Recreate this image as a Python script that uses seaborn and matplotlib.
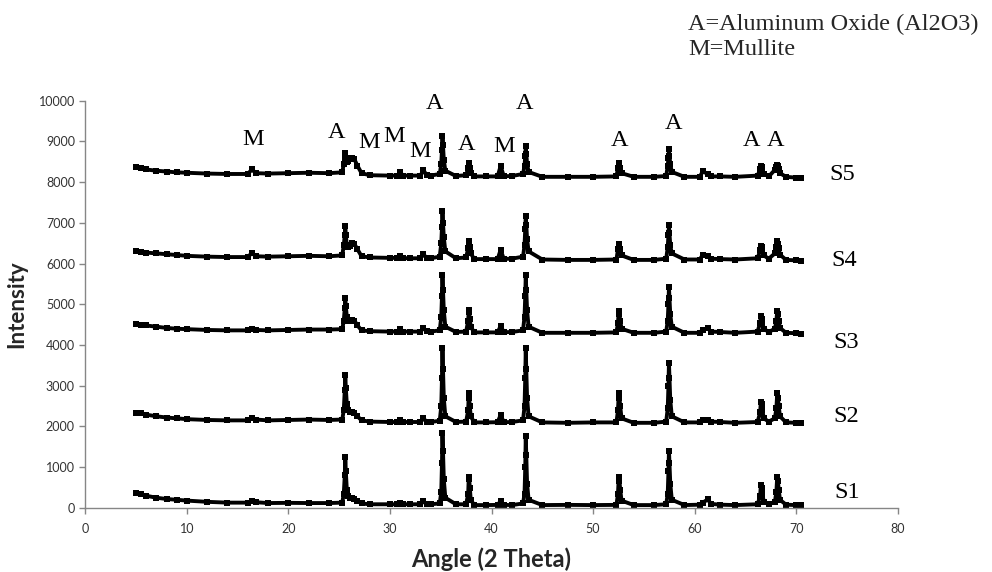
import pandas as pd
import matplotlib
matplotlib.use("Agg")
import matplotlib.pyplot as plt
import seaborn as sns

# =========================
# DATA
# =========================
ANGLE = [5.0, 5.5, 6.0, 7.0, 8.0, 9.0, 10.0, 12.0, 14.0, 16.0, 16.4, 16.8, 18.0, 20.0, 22.0, 24.0, 25.3,
         25.45, 25.55, 25.6, 25.65, 25.75, 25.9, 26.1, 26.3, 26.5, 26.8, 27.2,
         28.0, 30.0, 30.7, 31.0, 31.3, 32.0, 33.0, 33.3, 33.6, 34.0, 34.9,
         35.05, 35.12, 35.17, 35.22, 35.3, 35.45,
         36.5, 37.5,
         37.7, 37.76, 37.8, 37.86, 37.95,
         38.3, 39.5, 40.6, 40.9, 41.2, 42.0, 43.1,
         43.25, 43.32, 43.37, 43.42, 43.5, 43.65,
         45.0, 47.5, 50.0, 52.3,
         52.45, 52.53, 52.6, 52.67, 52.8,
         54.0, 56.0, 57.2,
         57.35, 57.42, 57.47, 57.52, 57.6, 57.75,
         59.0, 60.5, 60.8, 61.3, 61.6, 62.5, 64.0, 66.2,
         66.45, 66.52, 66.6, 66.68, 66.8,
         67.3, 67.9,
         68.05, 68.13, 68.2, 68.28, 68.4,
         69.0, 70.0, 70.5]

S1 = [360, 340, 300, 250, 220, 200, 180, 150, 130, 130, 170, 140, 120, 125, 120, 120, 130,
      350, 800, 1245, 900, 450, 300, 250, 240, 230, 170, 110,
      90, 90, 90, 110, 90, 90, 90, 160, 95, 90, 110,
      400, 1100, 1850, 1400, 700, 250,
      90, 90,
      350, 770, 700, 500, 200,
      70, 70, 75, 170, 75, 70, 110,
      350, 1000, 1770, 1300, 600, 200,
      70, 75, 70, 75,
      350, 770, 650, 450, 180,
      70, 70, 90,
      350, 900, 1410, 1100, 600, 200,
      70, 80, 130, 210, 100, 80, 70, 90,
      300, 565, 500, 350, 150,
      90, 150,
      400, 770, 650, 450, 200,
      80, 70, 60]

S2 = [2340, 2320, 2290, 2250, 2220, 2200, 2180, 2160, 2150, 2150, 2200, 2170, 2150, 2160, 2170, 2160, 2170,
      2400, 2900, 3270, 2950, 2550, 2400, 2350, 2360, 2340, 2250, 2150,
      2120, 2110, 2110, 2150, 2110, 2110, 2110, 2200, 2115, 2110, 2140,
      2500, 3200, 3920, 3400, 2700, 2250,
      2110, 2120,
      2400, 2830, 2700, 2500, 2250,
      2100, 2100, 2105, 2285, 2105, 2110, 2150,
      2500, 3200, 3920, 3400, 2700, 2250,
      2100, 2090, 2100, 2100,
      2400, 2830, 2700, 2500, 2200,
      2090, 2090, 2120,
      2450, 3000, 3570, 3200, 2650, 2250,
      2100, 2100, 2160, 2170, 2120, 2110, 2090, 2110,
      2350, 2610, 2550, 2400, 2200,
      2120, 2200,
      2450, 2810, 2700, 2500, 2250,
      2100, 2090, 2080]

S3 = [4520, 4500, 4480, 4450, 4420, 4400, 4390, 4370, 4360, 4360, 4400, 4370, 4360, 4370, 4380, 4380, 4390,
      4600, 4900, 5150, 4950, 4700, 4600, 4580, 4620, 4600, 4480, 4360,
      4340, 4330, 4330, 4400, 4330, 4330, 4330, 4420, 4335, 4330, 4360,
      4700, 5200, 5725, 5350, 4850, 4450,
      4320, 4330,
      4600, 4865, 4800, 4650, 4450,
      4310, 4310, 4310, 4470, 4315, 4320, 4360,
      4700, 5200, 5725, 5350, 4850, 4450,
      4300, 4300, 4300, 4310,
      4550, 4840, 4750, 4600, 4400,
      4300, 4300, 4330,
      4600, 5000, 5420, 5150, 4750, 4450,
      4300, 4300, 4380, 4410, 4330, 4320, 4300, 4330,
      4550, 4720, 4650, 4550, 4400,
      4320, 4400,
      4600, 4840, 4750, 4600, 4420,
      4300, 4290, 4280]

S4 = [6300, 6290, 6270, 6250, 6230, 6210, 6190, 6170, 6160, 6160, 6260, 6180, 6170, 6180, 6190, 6180, 6200,
      6450, 6700, 6930, 6700, 6450, 6400, 6420, 6500, 6480, 6350, 6180,
      6150, 6140, 6140, 6180, 6135, 6130, 6130, 6230, 6135, 6130, 6170,
      6500, 6900, 7300, 7000, 6650, 6300,
      6130, 6150,
      6380, 6545, 6500, 6400, 6250,
      6110, 6110, 6110, 6340, 6115, 6120, 6170,
      6450, 6850, 7175, 6950, 6600, 6300,
      6100, 6090, 6090, 6100,
      6350, 6490, 6450, 6350, 6200,
      6090, 6090, 6120,
      6400, 6700, 6950, 6750, 6450, 6250,
      6100, 6100, 6215, 6180, 6120, 6110, 6100, 6130,
      6330, 6440, 6400, 6330, 6200,
      6120, 6250,
      6400, 6545, 6480, 6380, 6220,
      6090, 6080, 6070]

S5 = [8360, 8340, 8310, 8280, 8260, 8240, 8230, 8210, 8200, 8200, 8310, 8220, 8210, 8220, 8230, 8220, 8240,
      8450, 8600, 8715, 8600, 8500, 8520, 8560, 8590, 8560, 8400, 8220,
      8170, 8160, 8160, 8240, 8160, 8160, 8160, 8300, 8165, 8160, 8200,
      8450, 8800, 9140, 8900, 8550, 8280,
      8150, 8170,
      8350, 8470, 8430, 8350, 8220,
      8140, 8140, 8140, 8400, 8145, 8150, 8200,
      8400, 8650, 8890, 8700, 8450, 8250,
      8130, 8130, 8130, 8140,
      8350, 8470, 8430, 8350, 8220,
      8130, 8130, 8150,
      8400, 8600, 8810, 8650, 8450, 8250,
      8130, 8130, 8265, 8200, 8140, 8140, 8130, 8160,
      8320, 8400, 8370, 8300, 8200,
      8140, 8300,
      8380, 8430, 8400, 8330, 8220,
      8130, 8110, 8110]

SAMPLES = ["S1", "S2", "S3", "S4", "S5"]
SERIES = [S1, S2, S3, S4, S5]

# phase letters above the peaks
PEAK_LABELS = ["M", "A", "M", "M", "M", "A", "A", "M", "A", "A", "A", "A", "A"]
PEAK_X = [16.5, 24.7, 27.9, 30.4, 33.0, 34.4, 37.5, 41.2, 43.2, 52.6, 57.9, 65.6, 68.0]
PEAK_Y = [9040, 9210, 8970, 9115, 8750, 9930, 8920, 8870, 9930, 9020, 9430, 9020, 9020]

# sample names at the right end of each pattern
NAME_X = [75.0, 74.9, 74.9, 74.7, 74.5]
NAME_Y = [370, 2240, 4050, 6070, 8180]


def plot_xrd():
    for s in SERIES:
        assert len(s) == len(ANGLE)

    df = pd.DataFrame({
        "Angle": ANGLE * len(SERIES),
        "Intensity": sum(SERIES, []),
        "Sample": [name for name in SAMPLES for _ in ANGLE],
    })

    sns.set_style("white")
    plt.rcParams["font.family"] = ["Lato", "DejaVu Sans"]

    fig = plt.figure(figsize=(9.92, 5.72), dpi=100)
    ax = fig.add_axes([0.086, 0.112, 0.819, 0.712])

    sns.lineplot(data=df, x="Angle", y="Intensity", hue="Sample", palette=["black"] * 5,
                 estimator=None, sort=False, marker="s", markersize=4.5, markeredgewidth=0,
                 lw=2.8, legend=False, ax=ax)

    ax.set_xlim(0, 80)
    ax.set_ylim(0, 10000)
    ax.set_xticks(range(0, 81, 10))
    ax.set_yticks(range(0, 10001, 1000))

    ax.spines["top"].set_visible(False)
    ax.spines["right"].set_visible(False)
    for side in ["left", "bottom"]:
        ax.spines[side].set_color("#868686")
        ax.spines[side].set_linewidth(1.0)
    ax.tick_params(axis="both", direction="out", length=4, width=1, color="#868686",
                   labelsize=9, labelcolor="#333333", left=True, bottom=True)
    ax.tick_params(axis="x", pad=7)

    ax.set_xlabel("Angle (2 Theta)", fontsize=17, weight="bold", labelpad=9)
    ax.set_ylabel("Intensity", fontsize=16, weight="bold", labelpad=8)

    serif = ["Liberation Serif", "DejaVu Serif"]
    for lab, x, y in zip(PEAK_LABELS, PEAK_X, PEAK_Y):
        ax.text(x, y, lab, ha="center", va="center", fontsize=17.5, family=serif, color="black")
    for name, x, y in zip(SAMPLES, NAME_X, NAME_Y):
        ax.text(x, y, name, ha="center", va="center", fontsize=17.5, family=serif, color="black")

    fig.text(0.694, 0.958, "A=Aluminum Oxide (Al2O3)", ha="left", va="center",
             fontsize=17.5, family=serif)
    fig.text(0.694, 0.914, "M=Mullite", ha="left", va="center", fontsize=17.5, family=serif)

    fig.savefig("out.png", dpi=100)
    plt.close(fig)


if __name__ == "__main__":
    plot_xrd()
